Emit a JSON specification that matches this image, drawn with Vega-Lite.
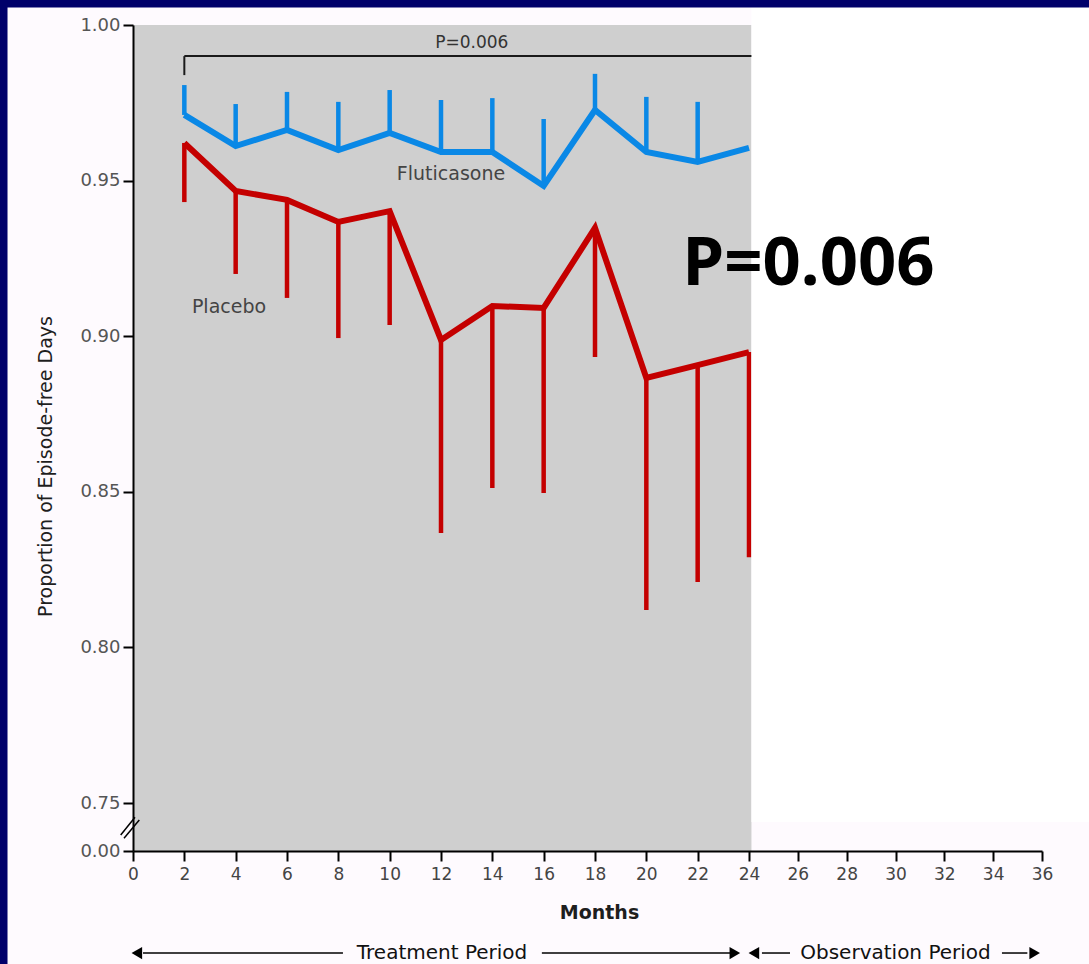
{
  "$schema": "https://vega.github.io/schema/vega-lite/v6.json",
  "width": 909,
  "height": 826,
  "autosize": {"type": "none"},
  "padding": {"left": 133, "top": 25, "right": 47, "bottom": 113},
  "background": "#fefafe",
  "config": {"font": "DejaVu Sans", "view": {"stroke": null}},
  "datasets": {
    "series": [
      {"group": "Fluticasone", "month": 2, "value": 0.9711, "value_end": 0.9807},
      {"group": "Fluticasone", "month": 4, "value": 0.9611, "value_end": 0.9746},
      {"group": "Fluticasone", "month": 6, "value": 0.9663, "value_end": 0.9785},
      {"group": "Fluticasone", "month": 8, "value": 0.9598, "value_end": 0.9753},
      {"group": "Fluticasone", "month": 10, "value": 0.9653, "value_end": 0.9791},
      {"group": "Fluticasone", "month": 12, "value": 0.9592, "value_end": 0.9759},
      {"group": "Fluticasone", "month": 14, "value": 0.9592, "value_end": 0.9765},
      {"group": "Fluticasone", "month": 16, "value": 0.9483, "value_end": 0.9698},
      {"group": "Fluticasone", "month": 18, "value": 0.9727, "value_end": 0.9843},
      {"group": "Fluticasone", "month": 20, "value": 0.9592, "value_end": 0.9769},
      {"group": "Fluticasone", "month": 22, "value": 0.9560, "value_end": 0.9753},
      {"group": "Fluticasone", "month": 24, "value": 0.9605, "value_end": null},
      {"group": "Placebo", "month": 2, "value": 0.9621, "value_end": 0.9431},
      {"group": "Placebo", "month": 4, "value": 0.9467, "value_end": 0.9200},
      {"group": "Placebo", "month": 6, "value": 0.9438, "value_end": 0.9123},
      {"group": "Placebo", "month": 8, "value": 0.9367, "value_end": 0.8994},
      {"group": "Placebo", "month": 10, "value": 0.9402, "value_end": 0.9036},
      {"group": "Placebo", "month": 12, "value": 0.8988, "value_end": 0.8368},
      {"group": "Placebo", "month": 14, "value": 0.9097, "value_end": 0.8512},
      {"group": "Placebo", "month": 16, "value": 0.9091, "value_end": 0.8496},
      {"group": "Placebo", "month": 18, "value": 0.9348, "value_end": 0.8933},
      {"group": "Placebo", "month": 20, "value": 0.8866, "value_end": 0.8120},
      {"group": "Placebo", "month": 22, "value": 0.8907, "value_end": 0.8210},
      {"group": "Placebo", "month": 24, "value": 0.8949, "value_end": 0.8290}
    ]
  },
  "encoding": {
    "x": {
      "field": "month",
      "type": "quantitative",
      "scale": {"type": "linear", "domain": [0, 24, 36], "range": [0, 616, 909], "nice": false, "zero": false},
      "axis": {
        "values": [0, 2, 4, 6, 8, 10, 12, 14, 16, 18, 20, 22, 24, 26, 28, 30, 32, 34, 36],
        "title": "Months",
        "titleFont": "DejaVu Sans",
        "titleFontSize": 19,
        "titleFontWeight": "bold",
        "titleColor": "#1e1e1e",
        "titlePadding": 21,
        "titleX": 466,
        "labelFont": "DejaVu Sans",
        "labelFontSize": 17,
        "labelColor": "#444444",
        "labelPadding": 5,
        "labelFlush": false,
        "labelOverlap": false,
        "tickSize": 10,
        "tickWidth": 2,
        "tickColor": "#000000",
        "domainColor": "#000000",
        "domainWidth": 2,
        "grid": false,
        "zindex": 1
      }
    },
    "y": {
      "field": "value",
      "type": "quantitative",
      "scale": {"type": "linear", "domain": [0, 0.75, 1], "range": [826, 778, 0], "nice": false, "zero": false},
      "axis": {
        "values": [0, 0.75, 0.8, 0.85, 0.9, 0.95, 1],
        "format": ".2f",
        "title": "Proportion of Episode-free Days",
        "titleFont": "DejaVu Sans",
        "titleFontSize": 19,
        "titleFontWeight": "normal",
        "titleColor": "#1e1e1e",
        "titlePadding": 24,
        "titleY": 441,
        "labelFont": "DejaVu Sans",
        "labelFontSize": 18,
        "labelColor": "#555555",
        "labelPadding": 3,
        "labelOverlap": false,
        "labelFlush": false,
        "tickSize": 10,
        "tickWidth": 2,
        "tickColor": "#000000",
        "domainColor": "#000000",
        "domainWidth": 2,
        "grid": false,
        "zindex": 1
      }
    }
  },
  "layer": [
    {
      "data": {"values": [{"part": "panel", "month": 0, "month_end": 24.1, "value": 0, "value_end": 1}]},
      "mark": {"type": "rect", "fill": "#cfcfcf"},
      "encoding": {"x2": {"field": "month_end"}, "y2": {"field": "value_end"}}
    },
    {
      "data": {"values": [
        {"part": "bracket", "month": 2, "month_end": 36, "value": 0.99, "value_end": 0.99},
        {"part": "bracket tick", "month": 2, "month_end": 2, "value": 0.99, "value_end": 0.9839}
      ]},
      "mark": {"type": "rule", "color": "#1a1a1a", "strokeWidth": 2},
      "encoding": {"x2": {"field": "month_end"}, "y2": {"field": "value_end"}}
    },
    {
      "data": {"name": "series"},
      "mark": {"type": "line", "strokeWidth": 6, "strokeJoin": "miter"},
      "encoding": {
        "color": {"field": "group", "type": "nominal", "scale": {"domain": ["Fluticasone", "Placebo"], "range": ["#0a88e6", "#c40000"]}, "legend": null}
      }
    },
    {
      "data": {"name": "series"},
      "transform": [{"filter": "datum.value_end != null"}],
      "mark": {"type": "rule", "strokeWidth": 4.5},
      "encoding": {
        "y2": {"field": "value_end"},
        "color": {"field": "group", "type": "nominal", "scale": {"domain": ["Fluticasone", "Placebo"], "range": ["#0a88e6", "#c40000"]}, "legend": null}
      }
    },
    {
      "data": {"values": [
        {"label": "Fluticasone", "month": 12.39, "value": 0.952},
        {"label": "Placebo", "month": 3.74, "value": 0.9095}
      ]},
      "mark": {"type": "text", "fontSize": 19, "color": "#444444", "align": "center", "baseline": "middle"},
      "encoding": {"text": {"field": "label"}}
    },
    {
      "data": {"values": [{"label": "P=0.006", "month": 13.2, "value": 0.9941}]},
      "mark": {"type": "text", "fontSize": 17, "color": "#333333", "align": "center", "baseline": "middle"},
      "encoding": {"text": {"field": "label"}}
    },
    {
      "data": {"values": [{"part": "cover", "month": 24.1, "month_end": 40, "value": 0.453, "value_end": 1.05}]},
      "mark": {"type": "rect", "fill": "#ffffff"},
      "encoding": {"x2": {"field": "month_end"}, "y2": {"field": "value_end"}}
    },
    {
      "data": {"values": [{"label": "P=0.006", "month": 26.44, "value": 0.9229}]},
      "mark": {"type": "text", "font": "Noto Sans", "fontSize": 67, "fontWeight": "bold", "color": "#000000", "align": "center", "baseline": "middle"},
      "encoding": {"text": {"field": "label"}}
    },
    {
      "data": {"values": [
        {"part": "frame top", "month": -6, "month_end": 40, "value": 1.00562, "value_end": 1.05},
        {"part": "frame left", "month": -6, "month_end": -4.889, "value": -3, "value_end": 1.05}
      ]},
      "mark": {"type": "rect", "fill": "#00006a"},
      "encoding": {"x2": {"field": "month_end"}, "y2": {"field": "value_end"}}
    },
    {
      "data": {"values": [
        {"part": "break a", "month": -0.479, "month_end": 0.078, "value": 0.25, "value_end": 0.527},
        {"part": "break b", "month": -0.351, "month_end": 0.245, "value": 0.198, "value_end": 0.484}
      ]},
      "mark": {"type": "rule", "color": "#000000", "strokeWidth": 1.5},
      "encoding": {"x2": {"field": "month_end"}, "y2": {"field": "value_end"}}
    },
    {
      "data": {"values": [
        {"part": "treatment left", "month": 0.39, "month_end": 8.18, "value": -1.594},
        {"part": "treatment right", "month": 15.93, "month_end": 23.38, "value": -1.594},
        {"part": "observation left", "month": 24.53, "month_end": 25.68, "value": -1.594},
        {"part": "observation right", "month": 34.36, "month_end": 35.4, "value": -1.594}
      ]},
      "mark": {"type": "rule", "color": "#000000", "strokeWidth": 1.5},
      "encoding": {"x2": {"field": "month_end"}}
    },
    {
      "data": {"values": [
        {"part": "start arrow", "month": 0.15, "value": -1.594},
        {"part": "observation start arrow", "month": 24.2, "value": -1.594}
      ]},
      "mark": {"type": "point", "shape": "triangle-left", "filled": true, "color": "#000000", "size": 150, "opacity": 1},
      "encoding": {}
    },
    {
      "data": {"values": [
        {"part": "treatment end arrow", "month": 23.45, "value": -1.594},
        {"part": "observation end arrow", "month": 35.7, "value": -1.594}
      ]},
      "mark": {"type": "point", "shape": "triangle-right", "filled": true, "color": "#000000", "size": 150, "opacity": 1},
      "encoding": {}
    },
    {
      "data": {"values": [
        {"label": "Treatment Period", "month": 12.04, "value": -1.594},
        {"label": "Observation Period", "month": 30.0, "value": -1.594}
      ]},
      "mark": {"type": "text", "fontSize": 20, "color": "#111111", "align": "center", "baseline": "middle"},
      "encoding": {"text": {"field": "label"}}
    }
  ]
}
